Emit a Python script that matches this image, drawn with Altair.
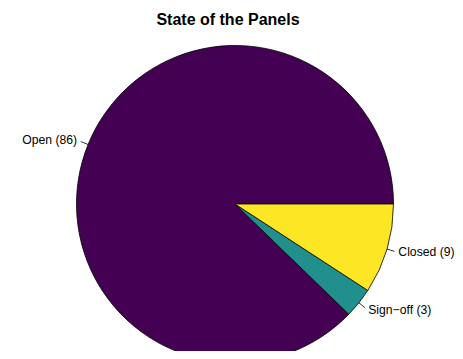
import altair as alt
import pandas as pd

labels = ["Open", "Sign\u2212off", "Closed"]
values = [86, 3, 9]
colors = ["#440154", "#21908C", "#FDE725"]
title_text = "State of the Panels"

df = pd.DataFrame({"label": labels, "value": values, "idx": list(range(len(labels)))})

# layout constants (pixels inside the plot group)
CX, CY, R = 227, 196, 158.5
LABEL_R = 1.075

base = alt.Chart(df).transform_window(
    cum="sum(value)", sort=[alt.SortField("idx")], frame=[None, 0]
).transform_joinaggregate(
    total="sum(value)"
).transform_calculate(
    a0="2*PI*(datum.cum - datum.value)/datum.total",
    a1="2*PI*datum.cum/datum.total",
).transform_calculate(
    am="(datum.a0 + datum.a1)/2",
    t0="PI/2 - datum.a1",
    t1="PI/2 - datum.a0",
).transform_calculate(
    txt="datum.label + ' (' + datum.value + ')'",
    lx=f"{CX} + {LABEL_R}*{R}*cos(datum.am)",
    ly=f"{CY} - {LABEL_R}*{R}*sin(datum.am)",
    ax0=f"{CX} + {R}*cos(datum.am)",
    ay0=f"{CY} - {R}*sin(datum.am)",
    ax1=f"{CX} + 1.05*{R}*cos(datum.am)",
    ay1=f"{CY} - 1.05*{R}*sin(datum.am)",
)

pie = base.mark_arc(stroke="black", strokeWidth=0.8).encode(
    theta=alt.Theta("t0:Q", scale=None),
    theta2="t1:Q",
    radius=alt.value(R),
    x=alt.value(CX),
    y=alt.value(CY),
    color=alt.Color("label:N", scale=alt.Scale(domain=labels, range=colors), legend=None),
)

ticks = base.mark_rule(color="black", strokeWidth=0.8).encode(
    x=alt.X("ax0:Q", scale=None),
    y=alt.Y("ay0:Q", scale=None),
    x2="ax1:Q",
    y2="ay1:Q",
)

text_common = dict(font="Liberation Sans", fontSize=12.2, baseline="middle", color="black")

left_text = base.transform_filter("cos(datum.am) < 0").mark_text(align="right", **text_common).encode(
    x=alt.X("lx:Q", scale=None), y=alt.Y("ly:Q", scale=None), text="txt:N"
)
right_text = base.transform_filter("cos(datum.am) >= 0").mark_text(align="left", **text_common).encode(
    x=alt.X("lx:Q", scale=None), y=alt.Y("ly:Q", scale=None), text="txt:N"
)

title = alt.Chart(pd.DataFrame({"t": [title_text]})).mark_text(
    font="Liberation Sans", fontSize=16, fontWeight="bold", align="center",
    baseline="alphabetic", color="black"
).encode(x=alt.value(220), y=alt.value(17), text="t:N")

chart = alt.layer(pie, ticks, left_text, right_text, title).properties(
    width=447,
    height=343,
    padding=0,
    autosize=alt.AutoSizeParams(type="none"),
).configure_view(stroke=None)

chart.save("out.html", embed_options={"renderer": "svg", "actions": False})
